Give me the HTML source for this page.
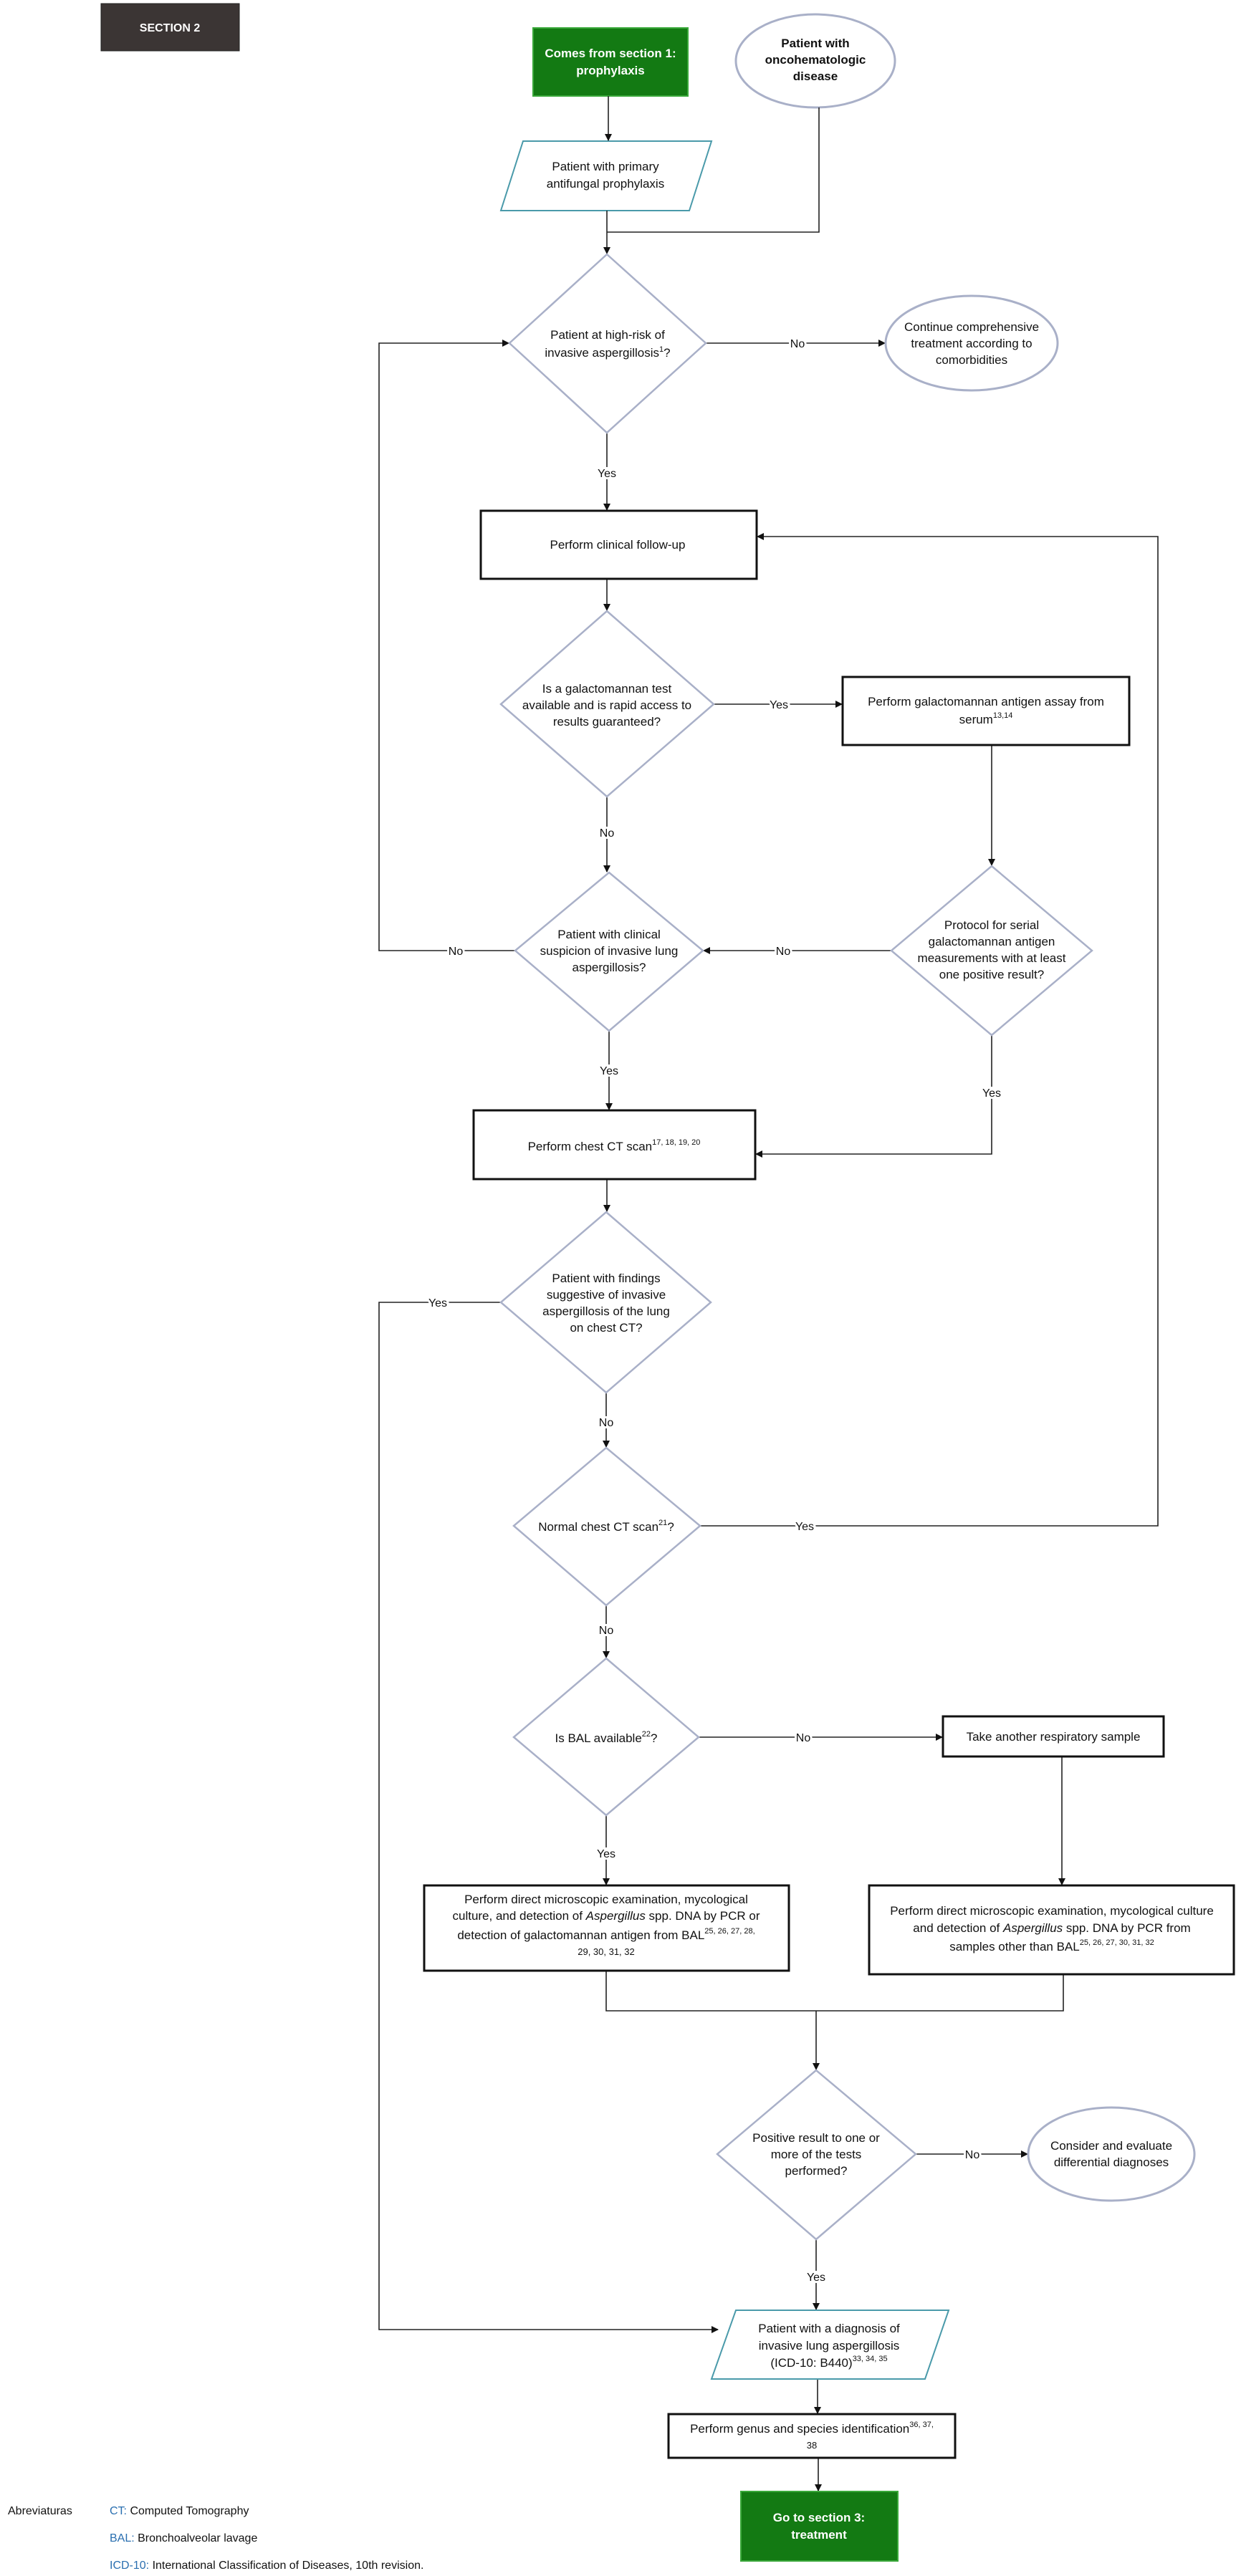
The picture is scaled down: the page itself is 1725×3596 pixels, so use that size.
<!DOCTYPE html>
<html><head><meta charset="utf-8"><style>
html,body{margin:0;padding:0;background:#fff}
svg{display:block}
text{font-family:"Liberation Sans",Arial,sans-serif;font-size:17px;fill:#111}
.c{text-anchor:middle}
.lbl{text-anchor:middle;font-size:16px;paint-order:stroke;stroke:#fff;stroke-width:6px}
.sup{font-size:11px}
.d{fill:#fff;stroke:#a9b0c8;stroke-width:2.5}
.b{fill:#fff;stroke:#111;stroke-width:3}
.p{fill:#fff;stroke:#4a9aaa;stroke-width:2}
.e{fill:#fff;stroke:#a9b0c8;stroke-width:3}
.l{fill:none;stroke:#222;stroke-width:1.6}
</style></head><body>
<svg width="1725" height="3596" viewBox="0 0 1725 3596" xmlns="http://www.w3.org/2000/svg">
<defs><marker id="a" markerWidth="10" markerHeight="10" refX="9" refY="5" orient="auto" markerUnits="userSpaceOnUse"><path d="M0,0 L10,5 L0,10 z" fill="#111"/></marker></defs>

<rect x="141" y="5" width="193" height="66" fill="#3b3534" stroke="#222"/>
<text x="237" y="44" class="c" style="fill:#fff;font-weight:bold;font-size:16px">SECTION 2</text>

<rect x="744" y="39" width="216" height="95" fill="#137a13" stroke="#3aa83a" stroke-width="2"/>
<text x="852" y="80" class="c" style="fill:#fff;font-weight:bold">Comes from section 1:</text>
<text x="852" y="104" class="c" style="fill:#fff;font-weight:bold">prophylaxis</text>

<ellipse cx="1138" cy="85" rx="111" ry="65" class="e"/>
<text x="1138" y="66" class="c" style="font-weight:bold">Patient with</text>
<text x="1138" y="89" class="c" style="font-weight:bold">oncohematologic</text>
<text x="1138" y="112" class="c" style="font-weight:bold">disease</text>

<polygon points="730,197 993,197 962,294 699,294" class="p"/>
<text x="845" y="238" class="c">Patient with primary</text>
<text x="845" y="262" class="c">antifungal prophylaxis</text>

<!-- connectors -->
<path d="M849,134 V196" class="l" marker-end="url(#a)"/>
<path d="M1143,150 V324 H847" class="l"/>
<path d="M847,294 V354" class="l" marker-end="url(#a)"/>
<path d="M985,479 H1235" class="l" marker-end="url(#a)"/>
<text x="1113" y="485" class="lbl">No</text>
<path d="M847,604 V712" class="l" marker-end="url(#a)"/>
<text x="847" y="666" class="lbl">Yes</text>
<path d="M847,808 V852" class="l" marker-end="url(#a)"/>
<path d="M996,983 H1175" class="l" marker-end="url(#a)"/>
<text x="1087" y="989" class="lbl">Yes</text>
<path d="M1384,1040 V1208" class="l" marker-end="url(#a)"/>
<path d="M847,1112 V1217" class="l" marker-end="url(#a)"/>
<text x="847" y="1168" class="lbl">No</text>
<path d="M1244,1327 H982" class="l" marker-end="url(#a)"/>
<text x="1093" y="1333" class="lbl">No</text>
<path d="M719,1327 H529 V479 H710" class="l" marker-end="url(#a)"/>
<text x="636" y="1333" class="lbl">No</text>
<path d="M850,1439 V1549" class="l" marker-end="url(#a)"/>
<text x="850" y="1500" class="lbl">Yes</text>
<path d="M1384,1445 V1611 H1055" class="l" marker-end="url(#a)"/>
<text x="1384" y="1531" class="lbl">Yes</text>
<path d="M847,1646 V1691" class="l" marker-end="url(#a)"/>
<path d="M699,1818 H529 V3252 H1002" class="l" marker-end="url(#a)"/>
<text x="611" y="1824" class="lbl">Yes</text>
<path d="M846,1944 V2020" class="l" marker-end="url(#a)"/>
<text x="846" y="1991" class="lbl">No</text>
<path d="M977,2130 H1616 V749 H1057" class="l" marker-end="url(#a)"/>
<text x="1123" y="2136" class="lbl">Yes</text>
<path d="M846,2241 V2314" class="l" marker-end="url(#a)"/>
<text x="846" y="2281" class="lbl">No</text>
<path d="M975,2425 H1315" class="l" marker-end="url(#a)"/>
<text x="1121" y="2431" class="lbl">No</text>
<path d="M846,2534 V2631" class="l" marker-end="url(#a)"/>
<text x="846" y="2593" class="lbl">Yes</text>
<path d="M1482,2452 V2631" class="l" marker-end="url(#a)"/>
<path d="M846,2751 V2807 H1484 V2756" class="l"/>
<path d="M1139,2807 V2889" class="l" marker-end="url(#a)"/>
<path d="M1278,3007 H1434" class="l" marker-end="url(#a)"/>
<text x="1357" y="3013" class="lbl">No</text>
<path d="M1139,3126 V3224" class="l" marker-end="url(#a)"/>
<text x="1139" y="3184" class="lbl">Yes</text>
<path d="M1141,3321 V3369" class="l" marker-end="url(#a)"/>
<path d="M1142,3431 V3477" class="l" marker-end="url(#a)"/>

<!-- diamond 1 -->
<polygon points="847,355 985,479 847,604 711,479" class="d"/>
<text x="848" y="473" class="c">Patient at high-risk of</text>
<text x="848" y="498" class="c">invasive aspergillosis<tspan class="sup" dy="-7">1</tspan><tspan dy="7">?</tspan></text>

<ellipse cx="1356" cy="479" rx="120" ry="66" class="e"/>
<text x="1356" y="462" class="c">Continue comprehensive</text>
<text x="1356" y="485" class="c">treatment according to</text>
<text x="1356" y="508" class="c">comorbidities</text>

<rect x="671" y="713" width="385" height="95" class="b"/>
<text x="862" y="766" class="c">Perform clinical follow-up</text>

<polygon points="847,853 996,983 847,1112 699,983" class="d"/>
<text x="847" y="967" class="c">Is a galactomannan test</text>
<text x="847" y="990" class="c">available and is rapid access to</text>
<text x="847" y="1013" class="c">results guaranteed?</text>

<rect x="1176" y="945" width="400" height="95" class="b"/>
<text x="1376" y="985" class="c">Perform galactomannan antigen assay from</text>
<text x="1376" y="1010" class="c">serum<tspan class="sup" dy="-8">13,14</tspan></text>

<polygon points="850,1218 981,1327 850,1439 719,1327" class="d"/>
<text x="850" y="1310" class="c">Patient with clinical</text>
<text x="850" y="1333" class="c">suspicion of invasive lung</text>
<text x="850" y="1356" class="c">aspergillosis?</text>

<polygon points="1384,1209 1524,1327 1384,1445 1244,1327" class="d"/>
<text x="1384" y="1297" class="c">Protocol for serial</text>
<text x="1384" y="1320" class="c">galactomannan antigen</text>
<text x="1384" y="1343" class="c">measurements with at least</text>
<text x="1384" y="1366" class="c">one positive result?</text>

<rect x="661" y="1550" width="393" height="96" class="b"/>
<text x="857" y="1606" class="c">Perform chest CT scan<tspan class="sup" dy="-8">17, 18, 19, 20</tspan></text>

<polygon points="846,1692 992,1818 846,1944 699,1818" class="d"/>
<text x="846" y="1790" class="c">Patient with findings</text>
<text x="846" y="1813" class="c">suggestive of invasive</text>
<text x="846" y="1836" class="c">aspergillosis of the lung</text>
<text x="846" y="1859" class="c">on chest CT?</text>

<polygon points="846,2021 977,2130 846,2241 717,2130" class="d"/>
<text x="846" y="2137" class="c">Normal chest CT scan<tspan class="sup" dy="-8">21</tspan><tspan dy="8">?</tspan></text>

<polygon points="846,2315 975,2425 846,2534 717,2425" class="d"/>
<text x="846" y="2432" class="c">Is BAL available<tspan class="sup" dy="-8">22</tspan><tspan dy="8">?</tspan></text>

<rect x="1316" y="2396" width="308" height="56" class="b"/>
<text x="1470" y="2430" class="c">Take another respiratory sample</text>

<rect x="592" y="2632" width="509" height="119" class="b"/>
<text x="846" y="2657" class="c">Perform direct microscopic examination, mycological</text>
<text x="846" y="2680" class="c">culture, and detection of <tspan font-style="italic">Aspergillus</tspan> spp. DNA by PCR or</text>
<text x="846" y="2707" class="c">detection of galactomannan antigen from BAL<tspan class="sup" dy="-8">25, 26, 27, 28,</tspan></text>
<text x="846" y="2729" class="c" style="font-size:13px">29, 30, 31, 32</text>

<rect x="1213" y="2632" width="509" height="124" class="b"/>
<text x="1468" y="2673" class="c">Perform direct microscopic examination, mycological culture</text>
<text x="1468" y="2697" class="c">and detection of <tspan font-style="italic">Aspergillus</tspan> spp. DNA by PCR from</text>
<text x="1468" y="2723" class="c">samples other than BAL<tspan class="sup" dy="-8">25, 26, 27, 30, 31, 32</tspan></text>

<polygon points="1139,2890 1278,3007 1139,3126 1001,3007" class="d"/>
<text x="1139" y="2990" class="c">Positive result to one or</text>
<text x="1139" y="3013" class="c">more of the tests</text>
<text x="1139" y="3036" class="c">performed?</text>

<ellipse cx="1551" cy="3007" rx="116" ry="65" class="e"/>
<text x="1551" y="3001" class="c">Consider and evaluate</text>
<text x="1551" y="3024" class="c">differential diagnoses</text>

<polygon points="1027,3225 1324,3225 1291,3321 993,3321" class="p"/>
<text x="1157" y="3256" class="c">Patient with a diagnosis of</text>
<text x="1157" y="3280" class="c">invasive lung aspergillosis</text>
<text x="1157" y="3304" class="c">(ICD-10: B440)<tspan class="sup" dy="-8">33, 34, 35</tspan></text>

<rect x="933" y="3370" width="400" height="61" class="b"/>
<text x="1133" y="3396" class="c">Perform genus and species identification<tspan class="sup" dy="-8">36, 37,</tspan></text>
<text x="1133" y="3418" class="c" style="font-size:13px">38</text>

<rect x="1034" y="3478" width="219" height="97" fill="#137a13" stroke="#3aa83a" stroke-width="2"/>
<text x="1143" y="3520" class="c" style="fill:#fff;font-weight:bold">Go to section 3:</text>
<text x="1143" y="3544" class="c" style="fill:#fff;font-weight:bold">treatment</text>

<text x="11" y="3510" style="font-size:16px">Abreviaturas</text>
<text x="153" y="3510" style="font-size:16px"><tspan style="fill:#2a6fb0">CT:</tspan> Computed Tomography</text>
<text x="153" y="3548" style="font-size:16px"><tspan style="fill:#2a6fb0">BAL:</tspan> Bronchoalveolar lavage</text>
<text x="153" y="3586" style="font-size:16px"><tspan style="fill:#2a6fb0">ICD-10:</tspan> International Classification of Diseases, 10th revision.</text>
</svg>
</body></html>
